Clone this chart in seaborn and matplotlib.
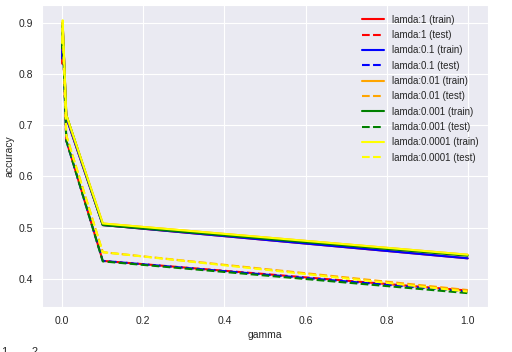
import numpy as np
import pandas as pd
import matplotlib
matplotlib.use("Agg")
import matplotlib.pyplot as plt
import seaborn as sns

gamma = [0.0001, 0.001, 0.01, 0.1, 1.0]
lamdas = ["1", "0.1", "0.01", "0.001", "0.0001"]
colors = ["red", "blue", "orange", "green", "yellow"]

train_acc = {
    "1":      [0.82, 0.900, 0.715, 0.505, 0.440],
    "0.1":    [0.83, 0.900, 0.715, 0.505, 0.440],
    "0.01":   [0.86, 0.900, 0.720, 0.508, 0.447],
    "0.001":  [0.85, 0.895, 0.720, 0.505, 0.445],
    "0.0001": [0.86, 0.905, 0.720, 0.508, 0.447],
}
test_acc = {
    "1":      [0.82, 0.880, 0.670, 0.435, 0.377],
    "0.1":    [0.83, 0.880, 0.670, 0.435, 0.375],
    "0.01":   [0.86, 0.880, 0.680, 0.452, 0.378],
    "0.001":  [0.85, 0.880, 0.670, 0.434, 0.372],
    "0.0001": [0.86, 0.890, 0.680, 0.452, 0.375],
}

sns.set_style("darkgrid")
plt.rcParams['font.family'] = ['Liberation Sans', 'DejaVu Sans']

fig, ax = plt.subplots(figsize=(5.12, 3.52), dpi=100)

for lam, c in zip(lamdas, colors):
    df_tr = pd.DataFrame({"gamma": gamma, "accuracy": train_acc[lam]})
    df_te = pd.DataFrame({"gamma": gamma, "accuracy": test_acc[lam]})
    sns.lineplot(data=df_tr, x="gamma", y="accuracy", color=c, lw=1.5,
                 label=f"lamda:{lam} (train)", ax=ax)
    sns.lineplot(data=df_te, x="gamma", y="accuracy", color=c, lw=1.5,
                 linestyle="--", label=f"lamda:{lam} (test)", ax=ax)

ax.set_xlim(-0.05, 1.05)
ax.set_ylim(0.345, 0.935)
ax.set_xlabel("gamma", fontsize=7.5, labelpad=3)
ax.set_ylabel("accuracy", fontsize=7.5, labelpad=3)
ax.tick_params(labelsize=7.5, pad=3)
ax.legend(loc="upper right", frameon=False, fontsize=7, handlelength=2.2,
          labelspacing=0.55, borderaxespad=0.6)

# partially visible text at the bottom edge, as in the reference
fig.text(0.003, 0.0, "1  —  2", fontsize=8, va="center")
plt.subplots_adjust(left=0.082, right=0.953, top=0.986, bottom=0.128)
plt.savefig("out.png", dpi=100)
